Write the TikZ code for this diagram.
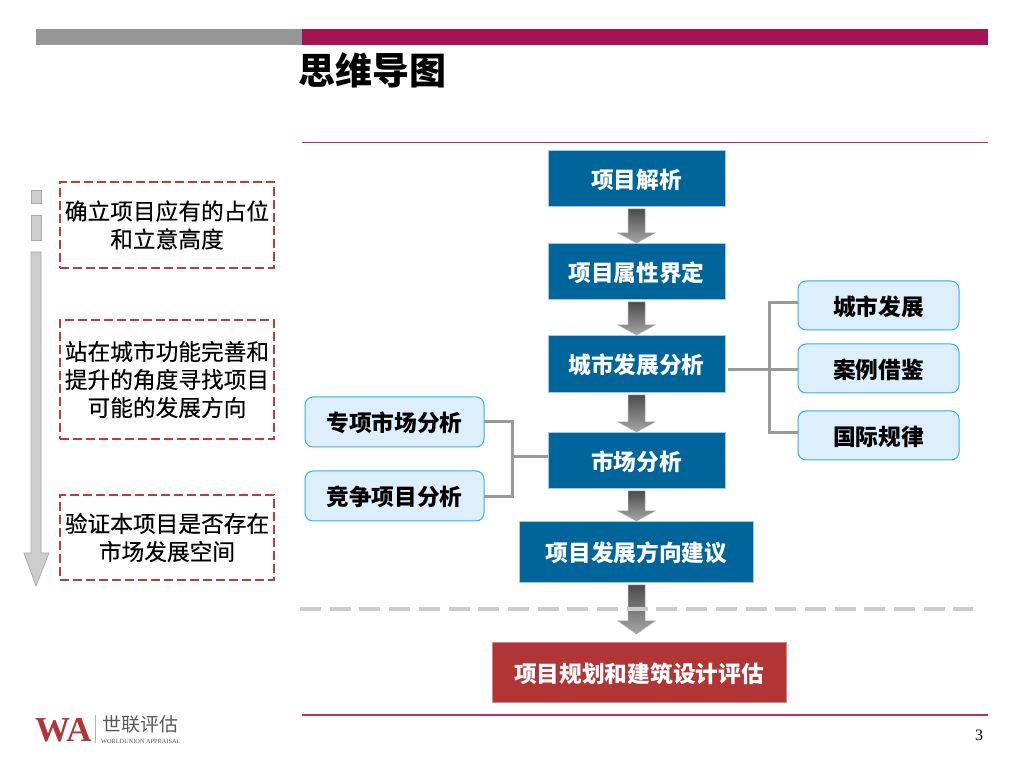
\documentclass[tikz,border=0pt]{standalone}
\usepackage{fontspec}
\usetikzlibrary{positioning, calc}
\setmainfont{Noto Sans CJK SC}
\newfontfamily\notefont[FakeBold=0.3]{Noto Sans CJK SC}
\newfontfamily\latinserif{Liberation Serif}
\definecolor{barred}{HTML}{A51350}
\definecolor{rulered}{HTML}{C4286F}
\definecolor{bargray}{HTML}{969696}
\definecolor{boxblue}{HTML}{00659B}
\definecolor{sidefill}{HTML}{DDEFFD}
\definecolor{sideline}{HTML}{2FB0EA}
\definecolor{evalred}{HTML}{B23535}
\definecolor{notered}{HTML}{C0393B}
\tikzstyle{mainbox} = [rectangle, minimum width=177pt, minimum height=56pt, inner sep=0pt, outer sep=0pt,
                       text height=22pt, text depth=1pt,
                       text centered, draw=boxblue!35, line width=0.5pt, fill=boxblue, text=white,
                       font=\fontsize{22.7}{28}\selectfont\bfseries]
\tikzstyle{evalbox} = [mainbox, fill=evalred, draw=evalred!60]
\tikzstyle{sidebox} = [rectangle, rounded corners=8pt, minimum width=179pt, minimum height=50pt, inner sep=0pt, outer sep=0pt,
                       text height=21pt, text depth=1pt,
                       text centered, draw=sideline, line width=1pt, fill=sidefill, text=black,
                       font=\fontsize{22.7}{28}\selectfont\bfseries]
\tikzstyle{notebox} = [rectangle, minimum width=214pt, inner sep=0pt, outer sep=0pt, align=center, draw=notered,
                       line width=2pt, dash pattern=on 9pt off 4pt, text=black,
                       font=\notefont\fontsize{22.7}{28}\selectfont]
\tikzstyle{link}    = [draw=black!40, line width=3pt]
\tikzstyle{flow}    = [top color=black!70, bottom color=black!35, draw=black!30, line width=0.5pt]
\tikzstyle{tick}    = [rectangle, minimum width=10pt, inner sep=0pt, fill=black!20, draw=black!33, line width=0.8pt]
% block arrow between two boxes: from, to, gap at the tip, head length
\newcommand{\flowarrow}[4]{
    \coordinate (tip) at ($(#1.south |- #2.north)+(0,#3)$);
    \coordinate (tail) at ($(#1.south)+(0,-3)$);
    \path[flow] ($(tail)+(-8.5,0)$) -- ($(tail)+(8.5,0)$) -- ($(tip)+(8.5,#4)$) -- ($(tip)+(18.5,#4)$)
        -- (tip) -- ($(tip)+(-18.5,#4)$) -- ($(tip)+(-8.5,#4)$) -- cycle;
}
\begin{document}
\begin{tikzpicture}[x=1pt, y=1pt]
    \useasboundingbox (0,0) rectangle (1024,768);

    % Header
    \fill[bargray] (36,739) rectangle (302,723);
    \fill[barred] (302,739) rectangle (988,723);
    \node (title) [anchor=west, inner sep=0pt, font=\fontsize{37}{40}\selectfont\bfseries] at (298.5,697.5) {思维导图};
    \fill[rulered] (302,626.4) rectangle (988,625.4);
    \fill[rulered] (302,53.6) rectangle (988,52.4);

    % Main column
    \node (parse) [mainbox] at (636.5,590) {项目解析};
    \node (attr) [mainbox, below=37pt of parse] {项目属性界定};
    \node (city) [mainbox, below=36pt of attr, minimum height=57pt] {城市发展分析};
    \node (market) [mainbox, below=40pt of city] {市场分析};
    \node (advice) [mainbox, below=33pt of market, minimum width=234pt, minimum height=61pt] {项目发展方向建议};
    \node (assess) [evalbox, below=60pt of advice, xshift=2.5pt, minimum width=294pt, minimum height=60pt] {项目规划和建筑设计评估};

    % Right column
    \node (urban) [sidebox, minimum width=161pt, minimum height=49pt] at (878.5,462.5) {城市发展};
    \node (cases) [sidebox, below=14pt of urban, minimum width=161pt, minimum height=49pt] {案例借鉴};
    \node (rules) [sidebox, below=18pt of cases, minimum width=161pt, minimum height=49pt] {国际规律};

    % Left column
    \node (special) [sidebox] at (394.5,346) {专项市场分析};
    \node (rival) [sidebox, below=24pt of special] {竞争项目分析};

    % Dashed notes
    \node (note1) [notebox, minimum height=86pt] at (167,543) {确立项目应有的占位\\和立意高度};
    \node (note2) [notebox, below=52pt of note1, minimum height=119pt] {站在城市功能完善和\\提升的角度寻找项目\\可能的发展方向};
    \node (note3) [notebox, below=56pt of note2, minimum height=85pt] {验证本项目是否存在\\市场发展空间};

    % Progress arrow
    \node (tick1) [tick, minimum height=13pt] at (36,571.5) {};
    \node (tick2) [tick, minimum height=25pt] at (36,540.5) {};
    \draw[fill=black!20, draw=black!33, line width=0.8pt] (31,516) -- (41,516) -- (41,215) -- (49,215) -- (36,182) -- (24,215) -- (31,215) -- cycle;

    % Block arrows
    \flowarrow{parse}{attr}{0}{10}
    \flowarrow{attr}{city}{0}{10}
    \flowarrow{city}{market}{0}{10}
    \flowarrow{market}{advice}{0}{10}
    \flowarrow{advice}{assess}{8}{13}

    % Separator
    \draw[black!20, line width=4pt, dash pattern=on 21pt off 8.7pt] (300,159) -- (973,159);

    % City branches
    \coordinate (cityout) at ($(city.east)+(3,-6.5)$);
    \coordinate (urbanin) at ($(urban.west)+(0,2.5)$);
    \coordinate (rulesin) at ($(rules.west)+(0,2.5)$);
    \coordinate (citytrunk) at (769,398);
    \draw[link] (cityout) -- (cityout -| cases.west);
    \draw[link] (urbanin) -| (citytrunk) |- (rulesin);

    % Market branches
    \coordinate (rivalout) at ($(rival.east)+(0,-1)$);
    \coordinate (markettrunk) at (512,311);
    \draw[link] (special.east) -| (markettrunk) |- (rivalout);
    \draw[link] (markettrunk) -- (markettrunk -| market.west);

    % Footer
    \node (pageno) [font=\latinserif\fontsize{16}{16}\selectfont] at (979,33) {3};
    \node (logowa) [anchor=west, inner sep=0pt, text=evalred, font=\latinserif\fontsize{35}{35}\selectfont\bfseries] at (35,38) {WA};
    \draw[black!30, line width=0.6pt] (95,53) -- (95,25);
    \node (logocn) [anchor=west, inner sep=0pt, text=black!65, font=\fontsize{19}{19}\selectfont] at (102,44) {世联评估};
    \node (logoen) [anchor=west, inner sep=0pt, text=black!65, font=\latinserif\fontsize{6.3}{6}\selectfont] at (101,27) {WORLDUNION APPRAISAL};
\end{tikzpicture}
\end{document}
